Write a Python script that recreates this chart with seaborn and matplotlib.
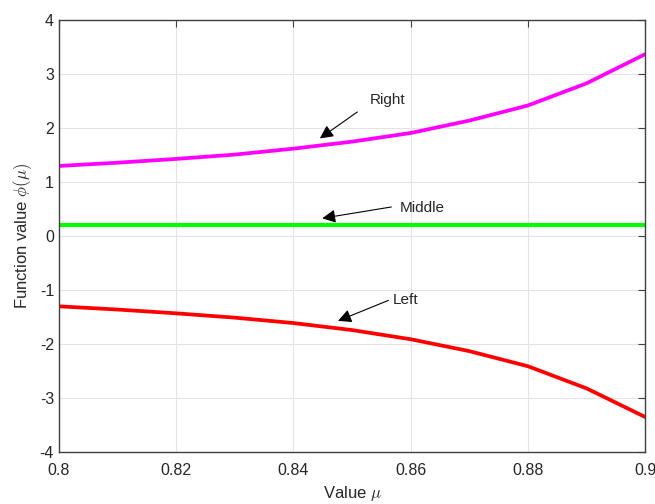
import matplotlib
matplotlib.use("Agg")
import matplotlib.pyplot as plt
import numpy as np
import pandas as pd
import seaborn as sns

# data
mu = [0.80, 0.81, 0.82, 0.83, 0.84, 0.85, 0.86, 0.87, 0.88, 0.89, 0.90]
right = [1.30, 1.36, 1.43, 1.51, 1.62, 1.75, 1.91, 2.14, 2.42, 2.83, 3.37]
middle = [0.2] * 11
left = [-1.30, -1.36, -1.43, -1.51, -1.61, -1.74, -1.91, -2.13, -2.41, -2.82, -3.35]

sns.set_style("whitegrid")
plt.rcParams['font.family'] = ['Liberation Sans', 'DejaVu Sans']
plt.rcParams['mathtext.fontset'] = 'cm'
plt.rcParams['axes.unicode_minus'] = False

fig, ax = plt.subplots(figsize=(6.55, 5.04), dpi=100)
fig.subplots_adjust(left=0.09, right=0.985, top=0.96, bottom=0.103)

sns.lineplot(x=mu, y=right, ax=ax, color='#ff00ff', lw=2.7)
sns.lineplot(x=mu, y=middle, ax=ax, color='#00ff00', lw=3.0)
sns.lineplot(x=mu, y=left, ax=ax, color='#ff0000', lw=2.7)

ax.set_xlim(0.8, 0.9)
ax.set_ylim(-4, 4)
ax.set_xticks([0.8, 0.82, 0.84, 0.86, 0.88, 0.9])
ax.set_xticklabels(['0.8', '0.82', '0.84', '0.86', '0.88', '0.9'])
ax.set_yticks(range(-4, 5))
ax.grid(True, color='#e3e3e3', lw=0.8)
for s in ax.spines.values():
    s.set_color('#404040')
    s.set_linewidth(1.0)
ax.tick_params(direction='in', length=5, width=0.8, color='#404040',
               labelsize=11.5, labelcolor='#262626', top=True, right=True)
ax.tick_params(axis='x', pad=8)

ax.set_xlabel(r'Value $\mu$', fontsize=12, color='#262626', labelpad=4)
ax.set_ylabel(r'Function value $\phi(\mu)$', fontsize=12, color='#262626', labelpad=4)

arrow = dict(arrowstyle='-|>', color='black', lw=0.8, mutation_scale=20,
             shrinkA=0, shrinkB=0)
ax.annotate('', xy=(0.8445, 1.81), xytext=(0.8509, 2.30), arrowprops=arrow)
ax.text(0.8530, 2.52, 'Right', fontsize=11, va='center', ha='left')
ax.annotate('', xy=(0.8449, 0.33), xytext=(0.8567, 0.54), arrowprops=arrow)
ax.text(0.8582, 0.52, 'Middle', fontsize=11, va='center', ha='left')
ax.annotate('', xy=(0.8476, -1.57), xytext=(0.8562, -1.19), arrowprops=arrow)
ax.text(0.8570, -1.19, 'Left', fontsize=11, va='center', ha='left')

fig.savefig('out.png', dpi=100)
